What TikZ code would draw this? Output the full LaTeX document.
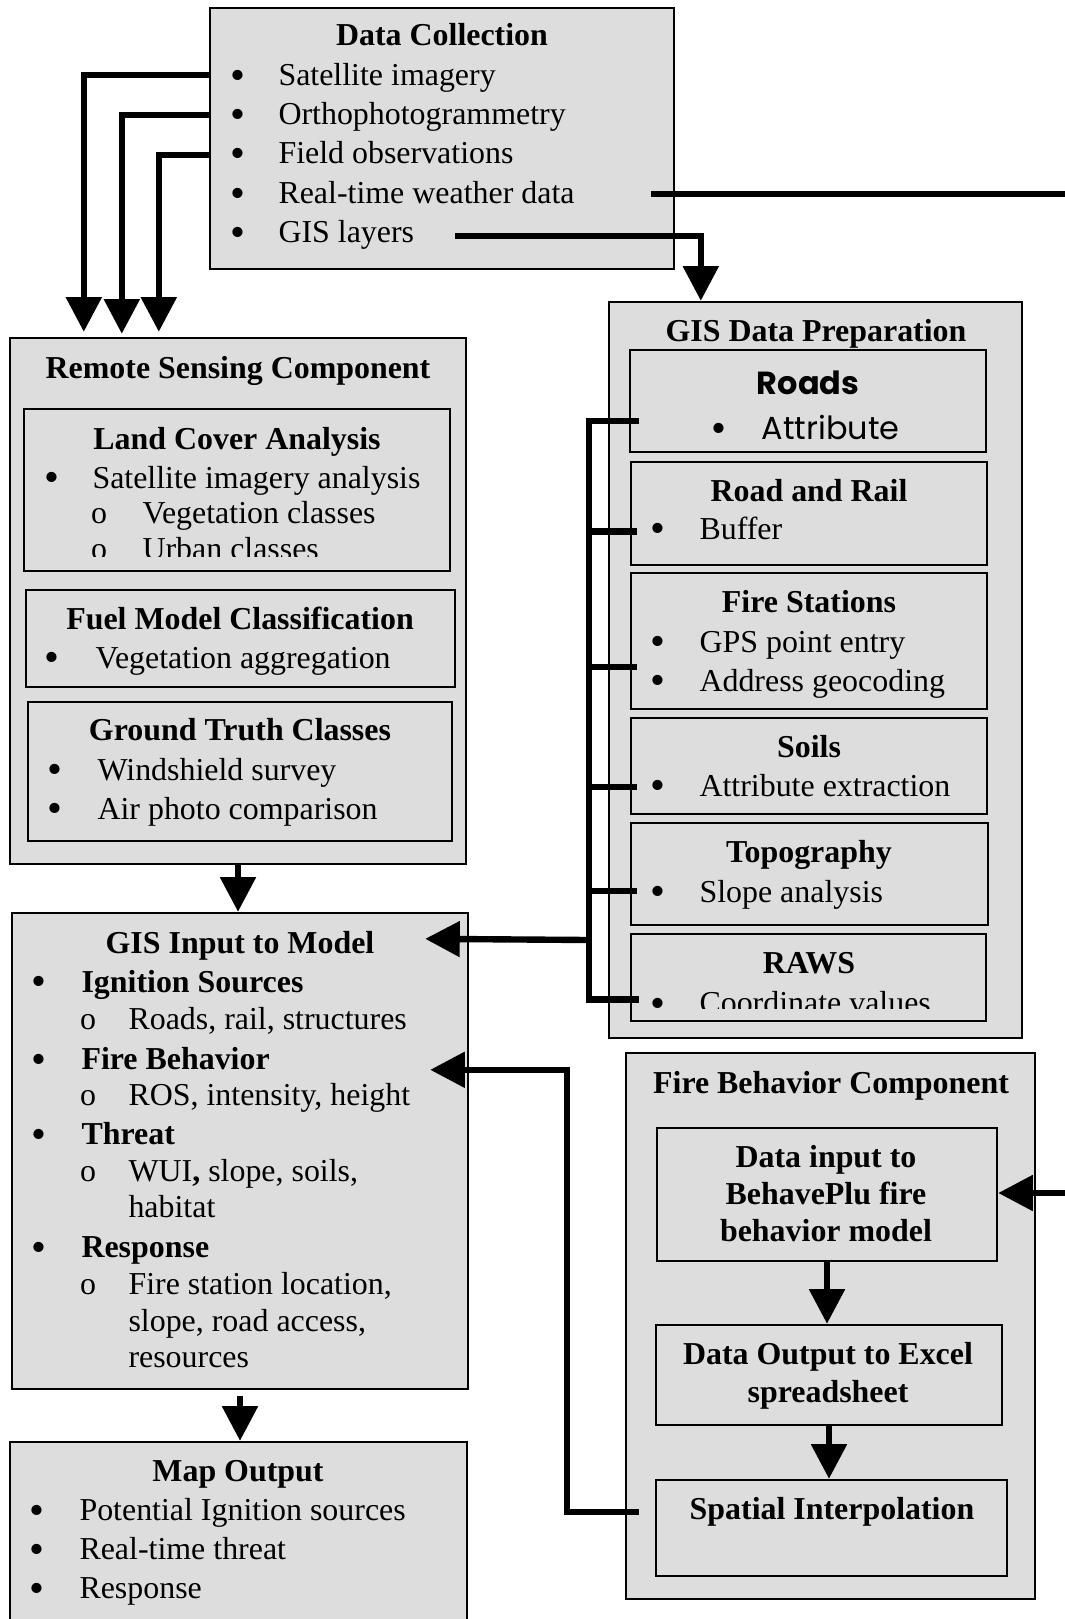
\documentclass[tikz,border=0pt,12pt]{standalone}
\usepackage{fontspec}
\setmainfont{Liberation Serif}
\newfontfamily\comicfont{Poppins}
\usetikzlibrary{arrows.meta,fit,calc}
\definecolor{boxgray}{RGB}{221,221,221}

\begin{document}
\begin{tikzpicture}[x=0.376pt,y=-0.376pt]

%
% Styles
%
\tikzstyle{box} = [rectangle,draw=black,fill=boxgray,line width=0.9pt,inner sep=0pt]
\tikzstyle{ttl} = [anchor=base,inner sep=0pt,font=\bfseries]
\tikzstyle{txt} = [anchor=base west,inner sep=0pt]
\tikzstyle{bul} = [anchor=base,inner sep=0pt]
\tikzstyle{link} = [line width=2.4pt]
\tikzstyle{arr} = [link,-{Triangle[length=13pt,width=13pt]}]
\newcommand{\blt}{\smash{\raisebox{-1.5pt}{\fontsize{16}{16}\selectfont\textbullet}}}

\useasboundingbox (0,0) rectangle (1065,1619);

%
% Data collection
%
\node[box,fit={(210,8) (674,269)}] (dc) {};
\node[ttl] (dct) at (442,46) {Data Collection};
\foreach \t [count=\i] in {Satellite imagery, Orthophotogrammetry, Field observations,
    Real-time weather data, GIS layers} {
  \node[bul] (dcb\i) at (238,{46+39.3*\i}) {\blt};
  \node[txt] (dci\i) at (278,{46+39.3*\i}) {\t};
}

%
% Remote sensing
%
\node[box,fit={(10,338) (466,864)}] (rs) {};
\node[ttl] (rst) at (238,378) {Remote Sensing Component};

\node[box,fit={(24,409) (450,571)}] (lca) {};
\node[ttl] (lcat) at (237,449) {Land Cover Analysis};
\node[bul] (lcab) at (52,488) {\blt};
\node[txt] (lcai) at (92,488) {Satellite imagery analysis};
\begin{scope}
  \clip (lca.north west) rectangle ($(lca.south east)+(0,-16)$);
  \foreach \t [count=\i] in {Vegetation classes, Urban classes} {
    \node[bul] (lcao\i) at (99,{487+36*\i}) {o};
    \node[txt] (lcas\i) at (142,{487+36*\i}) {\t};
  }
\end{scope}

\node[box,fit={(26,590) (455,687)}] (fmc) {};
\node[ttl] (fmct) at (240,629) {Fuel Model Classification};
\node[bul] (fmcb) at (52,668) {\blt};
\node[txt] (fmci) at (95,668) {Vegetation aggregation};

\node[box,fit={(28,702) (452,841)}] (gtc) {};
\node[ttl] (gtct) at (240,740) {Ground Truth Classes};
\foreach \t [count=\i] in {Windshield survey, Air photo comparison} {
  \node[bul] (gtcb\i) at (55,{741+39*\i}) {\blt};
  \node[txt] (gtci\i) at (97,{741+39*\i}) {\t};
}

%
% GIS data preparation
%
\node[box,fit={(609,302) (1022,1038)}] (gdp) {};
\node[ttl] (gdpt) at (816,341) {GIS Data Preparation};

\node[box,fit={(630,350) (986,452)}] (roads) {};
\node[ttl,font=\comicfont\bfseries] (roadst) at (808,394) {Roads};
\node[bul] (roadsb) at (719,439) {\blt};
\node[txt,font=\comicfont] (roadsi) at (761,439) {Attribute};

\node[box,fit={(631,462) (987,565)}] (rr) {};
\node[ttl] (rrt) at (809,501) {Road and Rail};
\node[bul] (rrb) at (658,539) {\blt};
\node[txt] (rri) at (699,539) {Buffer};

\node[box,fit={(631,573) (987,709)}] (fs) {};
\node[ttl] (fst) at (809,612) {Fire Stations};
\foreach \t [count=\i] in {GPS point entry, Address geocoding} {
  \node[bul] (fsb\i) at (658,{613+39*\i}) {\blt};
  \node[txt] (fsi\i) at (699,{613+39*\i}) {\t};
}

\node[box,fit={(631,718) (987,814)}] (soils) {};
\node[ttl] (soilst) at (809,757) {Soils};
\node[bul] (soilsb) at (658,796) {\blt};
\node[txt] (soilsi) at (699,796) {Attribute extraction};

\node[box,fit={(631,823) (988,925)}] (topo) {};
\node[ttl] (topot) at (809,862) {Topography};
\node[bul] (topob) at (658,902) {\blt};
\node[txt] (topoi) at (699,902) {Slope analysis};

\node[box,fit={(631,934) (986,1021)}] (raws) {};
\node[ttl] (rawst) at (809,973) {RAWS};
\node[bul] (rawsb) at (658,1013) {\blt};
\begin{scope}
  \clip (raws.north west) rectangle ($(raws.south east)+(0,-14)$);
  \node[txt] (rawsi) at (699,1013) {Coordinate values};
\end{scope}

%
% Fire behavior
%
\node[box,fit={(626,1053) (1035,1599)}] (fbc) {};
\node[ttl] (fbct) at (831,1093) {Fire Behavior Component};

\node[box,fit={(657,1128) (997,1261)}] (dinput) {};
\foreach \t [count=\i] in {Data input to, BehavePlu fire, behavior model}
  \node[ttl] (dinput\i) at (826,{1130+37*\i}) {\t};

\node[box,fit={(656,1325) (1002,1425)}] (doutput) {};
\foreach \t [count=\i] in {Data Output to Excel, spreadsheet}
  \node[ttl] (doutput\i) at (828,{1326+38*\i}) {\t};

\node[box,fit={(656,1480) (1007,1576)}] (spatial) {};
\node[ttl] (spatialt) at (832,1519) {Spatial Interpolation};

%
% GIS input to model
%
\node[box,fit={(12,913) (468,1389)}] (gim) {};
\node[ttl] (gimt) at (240,953) {GIS Input to Model};
\foreach \y/\t [count=\i] in {992/Ignition Sources, 1069/Fire Behavior, 1144/Threat, 1257/Response} {
  \node[bul] (gimb\i) at (39,\y) {\blt};
  \node[txt,font=\bfseries] (gimh\i) at (81,\y) {\t};
}
\foreach \y/\t [count=\i] in {1029/{Roads, rail, structures}, 1105/{ROS, intensity, height},
    1181/{WUI\textbf{,} slope, soils,}, 1294/{Fire station location,}} {
  \node[bul] (gimo\i) at (88,\y) {o};
  \node[txt] (gims\i) at (128,\y) {\t};
}
\foreach \y/\t [count=\i] in {1217/habitat, 1331/{slope, road access,}, 1367/resources}
  \node[txt] (gimc\i) at (128,\y) {\t};

%
% Map output
%
\node[box,fit={(10,1442) (467,1640)}] (mo) {};
\node[ttl] (mot) at (238,1481) {Map Output};
\foreach \t [count=\i] in {Potential Ignition sources, Real-time threat, Response} {
  \node[bul] (mob\i) at (37,{1481+39.3*\i}) {\blt};
  \node[txt] (moi\i) at (79,{1481+39.3*\i}) {\t};
}

%
% Connectors
%
\coordinate (layers) at (455,236);
\coordinate (wxout) at (651,194);
\coordinate (wxedge) at (1075,194);
\coordinate (wxin) at (1075,1193);
\coordinate (bus) at (589,940);

\draw[arr] ($(dc.north west)+(0,68)$) -| ($(rs.north west)+(75,-5)$);
\draw[arr] ($(dc.north west)+(0,108)$) -| ($(rs.north west)+(113,-3)$);
\draw[arr] ($(dc.north west)+(0,148)$) -| ($(rs.north west)+(150,-5)$);
\draw[arr] (layers) -| ($(gdp.north west)+(93,0)$);
\draw[link] (wxout) -- (wxedge);
\draw[arr] (wxin) -- (dinput.east |- wxin);

\draw[link] ($(roads.west)+(10,20)$) -| (bus) |- ($(raws.west)+(9,22)$);
\foreach \n/\dy in {rr/18, fs/26, soils/21, topo/17}
  \draw[link] ($(\n.west)+(7,\dy)$) -| (bus);
\draw[arr] (bus) -- ($(gim.north east)+(-44,27)$);

\draw[arr] ($(spatial.north west)+(-16,33)$) -| ($(gim.north east)+(98,158)$)
  -- ($(gim.north east)+(-39,158)$);

\draw[arr] (rs.south) -- (rs.south |- gim.north);
\draw[arr] ($(gim.south)+(0,6)$) -- (gim.south |- mo.north);
\draw[arr] (dinput.south) -- (dinput.south |- doutput.north);
\draw[arr] (doutput.south) -- (doutput.south |- spatial.north);

\end{tikzpicture}
\end{document}
